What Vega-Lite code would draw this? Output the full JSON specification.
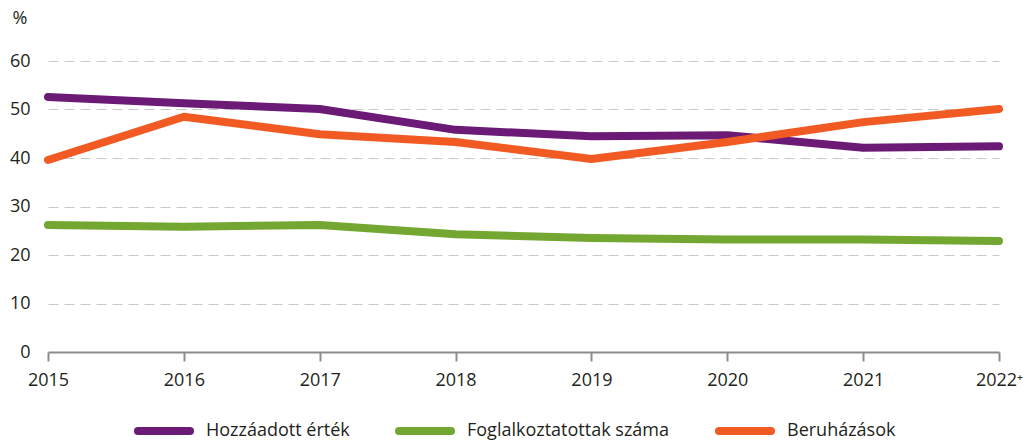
{
  "$schema": "https://vega.github.io/schema/vega-lite/v6.json",
  "autosize": {"type": "none"},
  "width": 951,
  "height": 291,
  "padding": {"left": 48, "top": 61, "right": 33, "bottom": 89},
  "background": "white",
  "config": {
    "font": "Open Sans",
    "view": {"stroke": null}
  },
  "data": {
    "values": [
      {"year": "2015", "series": "Hozzáadott érték", "value": 52.6},
      {"year": "2016", "series": "Hozzáadott érték", "value": 51.3},
      {"year": "2017", "series": "Hozzáadott érték", "value": 50.1},
      {"year": "2018", "series": "Hozzáadott érték", "value": 45.8},
      {"year": "2019", "series": "Hozzáadott érték", "value": 44.5},
      {"year": "2020", "series": "Hozzáadott érték", "value": 44.7},
      {"year": "2021", "series": "Hozzáadott érték", "value": 42.1},
      {"year": "2022⁺", "series": "Hozzáadott érték", "value": 42.4},
      {"year": "2015", "series": "Foglalkoztatottak száma", "value": 26.2},
      {"year": "2016", "series": "Foglalkoztatottak száma", "value": 25.8},
      {"year": "2017", "series": "Foglalkoztatottak száma", "value": 26.2},
      {"year": "2018", "series": "Foglalkoztatottak száma", "value": 24.3},
      {"year": "2019", "series": "Foglalkoztatottak száma", "value": 23.5},
      {"year": "2020", "series": "Foglalkoztatottak száma", "value": 23.2},
      {"year": "2021", "series": "Foglalkoztatottak száma", "value": 23.2},
      {"year": "2022⁺", "series": "Foglalkoztatottak száma", "value": 22.9},
      {"year": "2015", "series": "Beruházások", "value": 39.6},
      {"year": "2016", "series": "Beruházások", "value": 48.5},
      {"year": "2017", "series": "Beruházások", "value": 44.9},
      {"year": "2018", "series": "Beruházások", "value": 43.3},
      {"year": "2019", "series": "Beruházások", "value": 39.8},
      {"year": "2020", "series": "Beruházások", "value": 43.3},
      {"year": "2021", "series": "Beruházások", "value": 47.4},
      {"year": "2022⁺", "series": "Beruházások", "value": 50.1}
    ]
  },
  "mark": {"type": "line", "strokeWidth": 8, "strokeCap": "round", "strokeJoin": "round"},
  "encoding": {
    "x": {
      "field": "year",
      "type": "ordinal",
      "scale": {"type": "point", "padding": 0},
      "axis": {
        "title": null,
        "labelAngle": 0,
        "labelFontSize": 18,
        "labelColor": "#231f20",
        "labelPadding": 10,
        "domainColor": "#8c8c8c",
        "domainWidth": 2,
        "tickColor": "#8c8c8c",
        "tickWidth": 2,
        "tickSize": 9,
        "grid": false
      }
    },
    "y": {
      "field": "value",
      "type": "quantitative",
      "scale": {"domain": [0, 60], "nice": false},
      "axis": {
        "values": [0, 10, 20, 30, 40, 50, 60],
        "title": "%",
        "titleAngle": 0,
        "titleAlign": "left",
        "titleBaseline": "middle",
        "titleX": -36,
        "titleY": -43,
        "titleFontSize": 18,
        "titleFontWeight": "normal",
        "titleColor": "#231f20",
        "labelFontSize": 18,
        "labelColor": "#231f20",
        "labelPadding": 18,
        "domain": false,
        "ticks": false,
        "grid": true,
        "gridColor": "#c8c8c8",
        "gridDash": [10, 6],
        "gridWidth": 1
      }
    },
    "color": {
      "field": "series",
      "type": "nominal",
      "sort": ["Hozzáadott érték", "Foglalkoztatottak száma", "Beruházások"],
      "scale": {
        "domain": ["Hozzáadott érték", "Foglalkoztatottak száma", "Beruházások"],
        "range": ["#6b1a75", "#74a632", "#f15a22"]
      },
      "legend": {
        "title": null,
        "orient": "none",
        "direction": "horizontal",
        "legendX": 86,
        "legendY": 340,
        "symbolType": "stroke",
        "symbolSize": 2704,
        "symbolStrokeWidth": 8,
        "labelFontSize": 18,
        "labelLimit": 400,
        "labelColor": "#231f20",
        "labelOffset": 12,
        "columnPadding": 33,
        "encode": {
          "symbols": {"update": {"strokeCap": {"value": "round"}}}
        }
      }
    }
  }
}
